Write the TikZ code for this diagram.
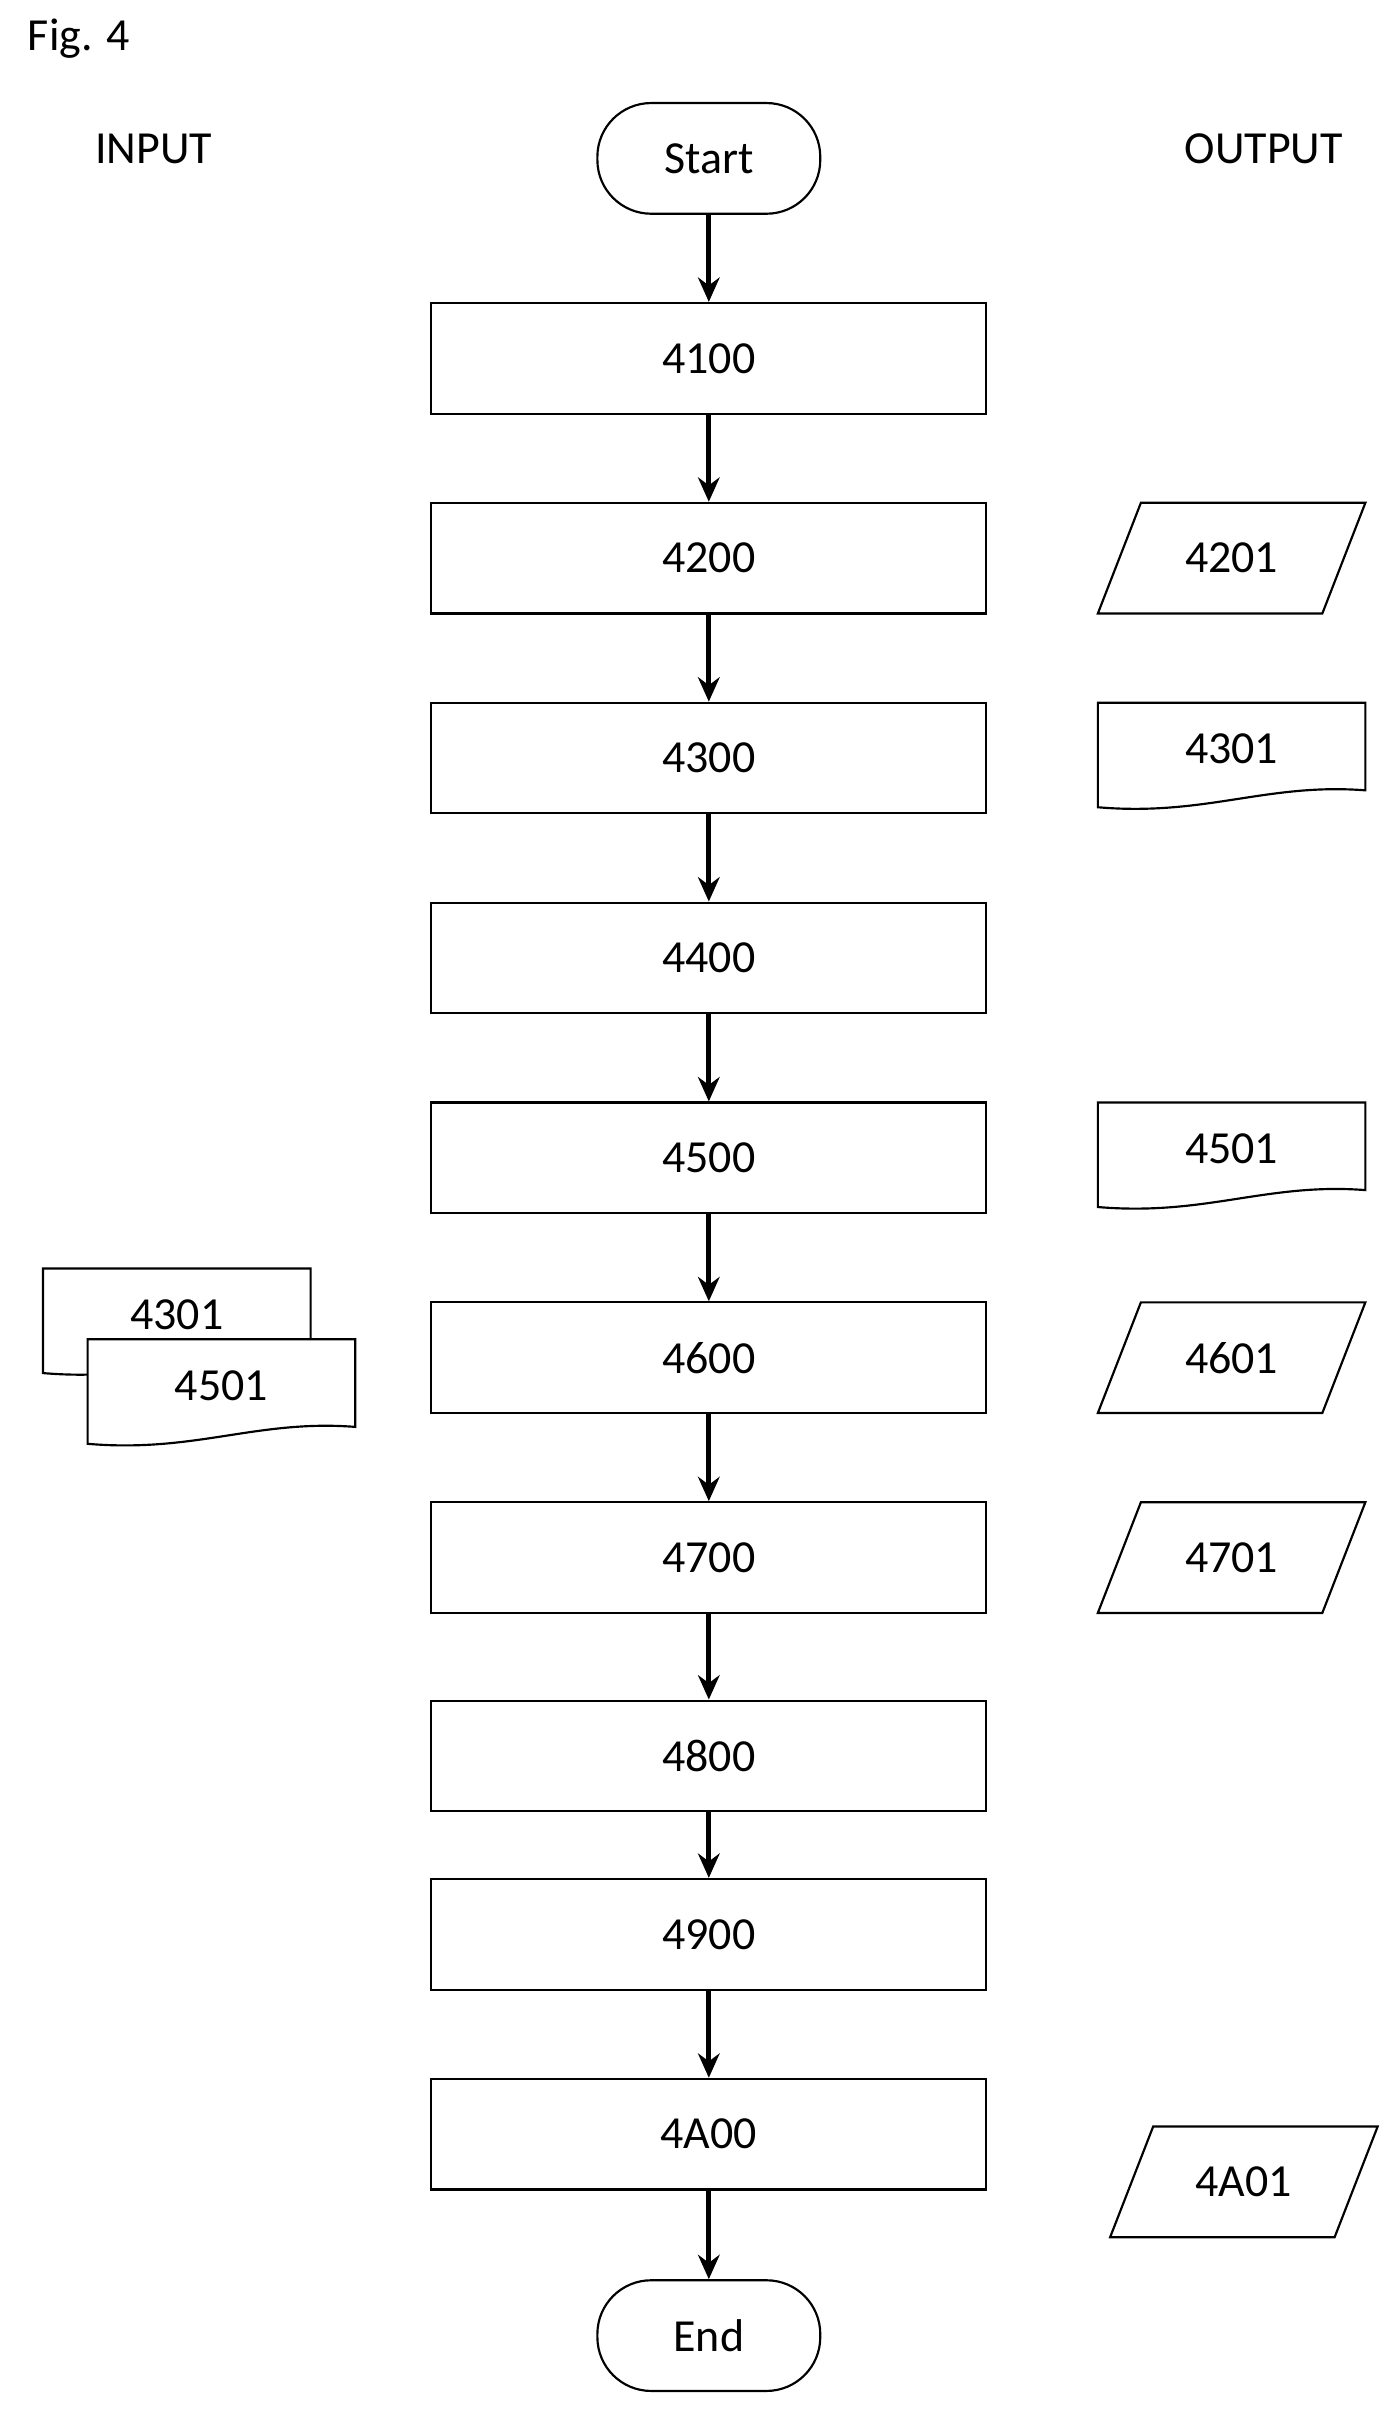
\documentclass[tikz,border=0pt]{standalone}
\usepackage{fontspec}
\setmainfont{Carlito}
\usetikzlibrary{arrows.meta}
\tikzset{
  process/.style={rectangle, draw=black, line width=0.8pt, minimum width=7.22cm, minimum height=1.44cm, text centered},
  terminal/.style={rectangle, rounded corners=0.7cm, draw=black, line width=0.8pt, minimum width=2.9cm, minimum height=1.44cm},
  shape line/.style={draw=black, line width=0.8pt},
  arrow/.style={line width=1.8pt, -{Stealth[length=9pt,width=8pt]}}
}
% parallelogram: #1 name, #2 left x, #3 top y, #4 text
\newcommand{\datashape}[4]{
  \draw[shape line] (#2,#3+72) -- (#2+28,#3) -- (#2+174,#3) -- (#2+146,#3+72) -- cycle;
  \node (#1) at (#2+87,#3+36) {#4};
}
% document: #1 name, #2 left x, #3 top y, #4 text
\newcommand{\docshape}[4]{
  \draw[shape line, fill=white] (#2,#3) -- (#2+174,#3) -- (#2+174,#3+57)
    .. controls (#2+110,#3+52) and (#2+70,#3+74) .. (#2,#3+68) -- cycle;
  \node (#1) at (#2+87,#3+30) {#4};
}
\begin{document}
\begin{tikzpicture}[x=0.02cm, y=-0.02cm, font=\fontsize{17}{20}\selectfont]
\useasboundingbox (0,0) rectangle (910,1570);
\node (fig) [anchor=west] at (12,25) {Fig. 4};
\node (input) at (100,97) {INPUT};
\node (output) at (822,97) {OUTPUT};
% main flow
\node (start) [terminal] at (461,103) {Start};
\node (s4100) [process] at (461,233) {4100};
\node (s4200) [process] at (461,363) {4200};
\node (s4300) [process] at (461,493) {4300};
\node (s4400) [process] at (461,623) {4400};
\node (s4500) [process] at (461,753) {4500};
\node (s4600) [process] at (461,883) {4600};
\node (s4700) [process] at (461,1013) {4700};
\node (s4800) [process] at (461,1142) {4800};
\node (s4900) [process] at (461,1258) {4900};
\node (s4A00) [process] at (461,1388) {4A00};
\node (end) [terminal] at (461,1519) {End};
\foreach \a/\b in {start/s4100, s4100/s4200, s4200/s4300, s4300/s4400, s4400/s4500,
  s4500/s4600, s4600/s4700, s4700/s4800, s4800/s4900, s4900/s4A00, s4A00/end}
  \draw[arrow] (\a) -- (\b);
% outputs
\datashape{o4201}{714}{327}{4201}
\docshape{o4301}{714}{457}{4301}
\docshape{o4501}{714}{717}{4501}
\datashape{o4601}{714}{847}{4601}
\datashape{o4701}{714}{977}{4701}
\datashape{o4A01}{722}{1383}{4A01}
% inputs
\docshape{i4301}{28}{825}{4301}
\docshape{i4501}{57}{871}{4501}
\end{tikzpicture}
\end{document}
